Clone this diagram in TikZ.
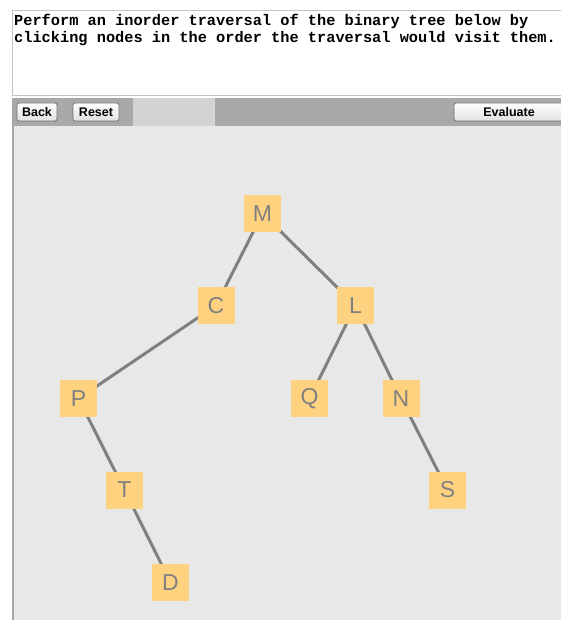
\documentclass[tikz,border=0pt]{standalone}
\usepackage{fontspec}
\setmainfont{Liberation Sans}
\newfontfamily\monob{Liberation Mono}
\pgfdeclarelayer{background}
\pgfdeclarelayer{edges}
\pgfsetlayers{background,edges,main}
\definecolor{canvasbg}{HTML}{E8E8E8}
\definecolor{barbg}{HTML}{A9A9A9}
\definecolor{barlight}{HTML}{D3D3D3}
\definecolor{boxborder}{HTML}{C4C4C4}
\definecolor{nodefill}{HTML}{FFD27F}
\definecolor{nodetext}{HTML}{808080}
\definecolor{edgecol}{HTML}{808080}
\definecolor{btnborder}{HTML}{707070}
\tikzset{
  treenode/.style={rectangle, fill=nodefill, draw=none, minimum width=37pt, minimum height=37pt, inner sep=0pt, text=nodetext, font=\fontsize{23}{23}\selectfont},
  treeedge/.style={draw=edgecol, line width=3pt},
  btn/.style={rectangle, rounded corners=2pt, draw=btnborder, line width=0.8pt, top color=white, bottom color=black!12, inner sep=0pt, font=\fontsize{12.5}{12.5}\selectfont\bfseries, text=black},
  prompt/.style={anchor=base west, inner sep=0pt, font=\monob\fontsize{15.3}{18}\selectfont\bfseries}
}
\begin{document}
\begin{tikzpicture}[x=1pt,y=-1pt]
\useasboundingbox (0,0) rectangle (561,620);
\begin{pgfonlayer}{background}
\fill[white] (0,0) rectangle (561,620);
\draw[boxborder, line width=1pt, fill=white] (12.5,11) rectangle (570,95.5);
\fill[barbg] (12,98) rectangle (561,126);
\fill[barlight] (133,98) rectangle (215,126);
\fill[canvasbg] (12,126) rectangle (561,620);
\draw[black!35, line width=1.2pt] (13,126) -- (13,620);
\end{pgfonlayer}
% prompt text
\node[prompt] (line1) at (14,26) {Perform an inorder traversal of the binary tree below by};
\node[prompt] (line2) at (14,43) {clicking nodes in the order the traversal would visit them.};
% toolbar buttons
\node[btn, minimum width=40pt, minimum height=18pt] (back) at (37,112) {Back};
\node[btn, minimum width=46pt, minimum height=18pt] (reset) at (96,112) {Reset};
\node[btn, minimum width=120pt, minimum height=18pt] (eval) at (514,112) {};
\node[font=\fontsize{12.5}{12.5}\selectfont\bfseries, inner sep=0pt] (evaltext) at (509,112) {Evaluate};
% tree nodes
\node[treenode] (M) at (262.5,213.5) {M};
\node[treenode] (C) at (216,305.5) {C};
\node[treenode] (L) at (355.5,305.5) {L};
\node[treenode] (P) at (78.5,398.5) {P};
\node[treenode] (Q) at (309.5,398.5) {Q};
\node[treenode] (N) at (401,398.5) {N};
\node[treenode] (T) at (124.5,490) {T};
\node[treenode] (S) at (447.5,490) {S};
\node[treenode] (D) at (170.5,582.5) {D};
\begin{pgfonlayer}{edges}
\draw[treeedge] (M.center) -- (C.center);
\draw[treeedge] (M.center) -- (L.center);
\draw[treeedge] (C.center) -- (P.center);
\draw[treeedge] (L.center) -- (Q.center);
\draw[treeedge] (L.center) -- (N.center);
\draw[treeedge] (P.center) -- (T.center);
\draw[treeedge] (N.center) -- (S.center);
\draw[treeedge] (T.center) -- (D.center);
\end{pgfonlayer}
\end{tikzpicture}
\end{document}
